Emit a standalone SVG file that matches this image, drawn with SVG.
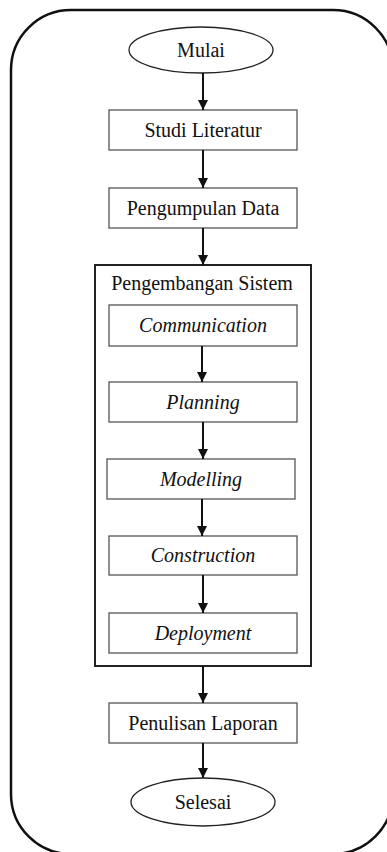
<svg xmlns="http://www.w3.org/2000/svg" width="387" height="852" viewBox="0 0 387 852">
<style>
.t{font-family:"Liberation Serif","Times New Roman",serif;font-size:20px;fill:#111;text-anchor:middle}
.i{font-style:italic}
.box{fill:#fff;stroke:#555;stroke-width:1.3}
.term{fill:#fff;stroke:#222;stroke-width:1.3}
.c{stroke:#111;stroke-width:2;fill:none;marker-end:url(#ah)}
</style>
<defs>
<marker id="ah" viewBox="0 0 10 10" refX="10" refY="5" markerWidth="5" markerHeight="5" orient="auto" markerUnits="strokeWidth">
<path d="M0,0 L10,5 L0,10 Z" fill="#111"/>
</marker>
</defs>
<rect x="0" y="0" width="387" height="852" fill="#fff"/>
<rect id="frame" x="11" y="10" width="382" height="844" rx="60" ry="60" fill="none" stroke="#111" stroke-width="2.5"/>
<g id="mulai"><ellipse class="term" cx="201" cy="50" rx="72" ry="23"/><text class="t" x="201" y="57">Mulai</text></g>
<g id="studi"><rect class="box" x="109" y="110" width="188" height="40"/><text class="t" x="203" y="137">Studi Literatur</text></g>
<g id="pengumpulan"><rect class="box" x="109" y="188" width="188" height="40"/><text class="t" x="203" y="215">Pengumpulan Data</text></g>
<g id="pengembangan"><rect x="95" y="265" width="216" height="401" fill="none" stroke="#222" stroke-width="2"/><text class="t" x="202" y="290">Pengembangan Sistem</text></g>
<g id="communication"><rect class="box" x="109" y="305" width="188" height="41"/><text class="t i" x="203" y="332">Communication</text></g>
<g id="planning"><rect class="box" x="109" y="382" width="188" height="40"/><text class="t i" x="203" y="409">Planning</text></g>
<g id="modelling"><rect class="box" x="107" y="459" width="188" height="40"/><text class="t i" x="201" y="486">Modelling</text></g>
<g id="construction"><rect class="box" x="109" y="536" width="188" height="39"/><text class="t i" x="203" y="562">Construction</text></g>
<g id="deployment"><rect class="box" x="109" y="613" width="188" height="40"/><text class="t i" x="203" y="640">Deployment</text></g>
<g id="penulisan"><rect class="box" x="109" y="703" width="188" height="40"/><text class="t" x="203" y="730">Penulisan Laporan</text></g>
<g id="selesai"><ellipse class="term" cx="203" cy="802" rx="72" ry="24"/><text class="t" x="203" y="809">Selesai</text></g>
<g id="connectors">
<line class="c" x1="203" y1="73" x2="203" y2="110"/>
<line class="c" x1="203" y1="150" x2="203" y2="188"/>
<line class="c" x1="203" y1="228" x2="203" y2="265"/>
<line class="c" x1="202" y1="346" x2="202" y2="382"/>
<line class="c" x1="203" y1="422" x2="203" y2="459"/>
<line class="c" x1="202" y1="499" x2="202" y2="536"/>
<line class="c" x1="203" y1="575" x2="203" y2="613"/>
<line class="c" x1="203" y1="666" x2="203" y2="703"/>
<line class="c" x1="203" y1="743" x2="203" y2="778"/>
</g>
</svg>
